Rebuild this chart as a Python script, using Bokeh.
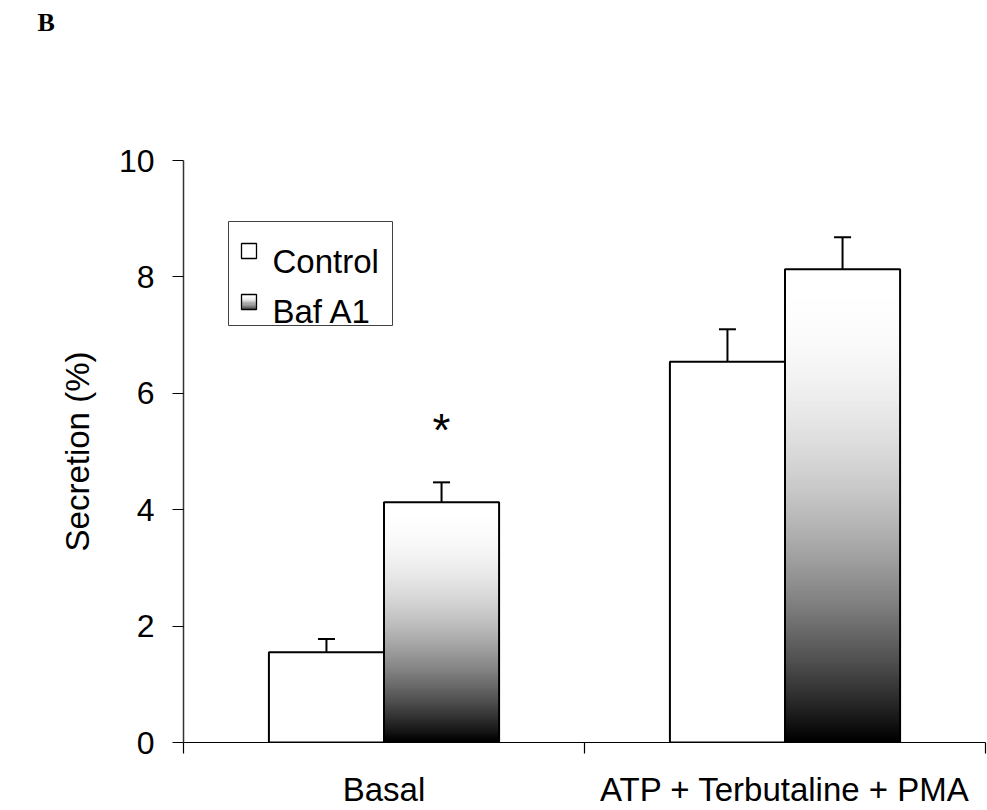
import numpy as np
from bokeh.plotting import figure
from bokeh.models import (Range1d, FixedTicker, Whisker, TeeHead, Label,
                          ColumnDataSource, LinearColorMapper, Title)
from bokeh.palettes import Greys256
from bokeh.embed import file_html
from bokeh.resources import INLINE
from bokeh.core.properties import value

# ---------------- data ----------------
groups = ["Basal", "ATP + Terbutaline + PMA"]
series = ["Control", "Baf A1"]
control = [1.55, 6.54]
control_err = [0.23, 0.56]
baf = [4.13, 8.13]
baf_err = [0.34, 0.55]
marks = ["*", ""]
y_ticks = [0, 2, 4, 6, 8, 10]
panel_letter = "B"

# ---------------- style / layout ----------------
FONT = "Liberation Sans"
W, H = 987, 810
X0, X1, Y0, Y1 = 183, 985, 742, 160      # frame in pixels
XMAX, YMAX = len(groups), 10
BAR_W = 0.287
OFF = BAR_W / 2


def dx(px):
    return (px - X0) / (X1 - X0) * XMAX


def dy(py):
    return (Y0 - py) / (Y0 - Y1) * YMAX


def shade(t):
    # vertical gradient: black at bottom, white at top
    return 1 - (1 - t) ** 2


p = figure(width=W, height=H, x_range=Range1d(0, XMAX), y_range=Range1d(0, YMAX),
           output_backend="svg", toolbar_location=None,
           min_border_left=X0, min_border_right=W - X1,
           min_border_top=Y1, min_border_bottom=H - Y0)
p.outline_line_color = None
p.grid.visible = False
p.background_fill_color = "white"
p.border_fill_color = "white"

# panel letter, pushed to the top of the page by blank trailing lines
p.add_layout(Title(text=panel_letter + "\n\n\n", text_font="Liberation Serif",
                   text_font_style="bold", text_font_size="26px",
                   text_line_height=1.42, text_color="black", align="left",
                   offset=37 - X0, standoff=0), "above")

gx = [i + 0.5 for i in range(len(groups))]
cx = [g - OFF for g in gx]
bx = [g + OFF for g in gx]

# Control bars
p.vbar(x=cx, top=control, bottom=0, width=BAR_W, fill_color="white",
       line_color="black", line_width=2)

# Baf A1 bars: gradient image + outline
N = 256
grad = shade(np.linspace(0, 1, N)).reshape(N, 1)
mapper = LinearColorMapper(palette=Greys256, low=0, high=1)
img_src = ColumnDataSource(dict(image=[grad for _ in baf],
                                x=[b - OFF for b in bx], y=[0] * len(baf),
                                dw=[BAR_W] * len(baf), dh=baf))
p.image(image="image", x="x", y="y", dw="dw", dh="dh", source=img_src,
        color_mapper=mapper)
p.vbar(x=bx, top=baf, bottom=0, width=BAR_W, fill_color=None,
       line_color="black", line_width=2)

# error bars (upper only)
err_src = ColumnDataSource(dict(
    base=cx + bx,
    lower=control + baf,
    upper=[v + e for v, e in zip(control, control_err)] +
          [v + e for v, e in zip(baf, baf_err)]))
p.add_layout(Whisker(base="base", lower="lower", upper="upper", source=err_src,
                     line_color="black", line_width=2, lower_head=None,
                     upper_head=TeeHead(size=17, line_color="black", line_width=2)))

# significance marks
sig_src = ColumnDataSource(dict(x=bx, y=[v + e + 0.9 for v, e in zip(baf, baf_err)],
                                t=marks))
p.text(x="x", y="y", text="t", source=sig_src, text_align="center",
       text_baseline="middle", text_font=value(FONT), text_font_size="46px",
       text_color="black")

# legend (drawn manually)
p.quad(left=[dx(228)], right=[dx(392)], top=[dy(221)], bottom=[dy(325)],
       fill_color="white", line_color="#404040", line_width=1)
# control swatch
p.quad(left=[dx(241)], right=[dx(256)], top=[dy(243)], bottom=[dy(258)],
       fill_color="white", line_color="black", line_width=1.3)
# gradient swatch
ns = 16
sw_top, sw_bot = 294, 309
strip_h = (sw_bot - sw_top) / ns
lefts, rights, tops, bots, cols = [], [], [], [], []
for k in range(ns):
    t = (k + 0.5) / ns
    g = int(round(shade(t) * 255))
    lefts.append(dx(241)); rights.append(dx(256))
    bots.append(dy(sw_bot - k * strip_h)); tops.append(dy(sw_bot - (k + 1) * strip_h))
    cols.append("#%02x%02x%02x" % (g, g, g))
p.quad(left=lefts, right=rights, top=tops, bottom=bots, fill_color=cols,
       line_color=None)
p.quad(left=[dx(241)], right=[dx(256)], top=[dy(sw_top)], bottom=[dy(sw_bot)],
       fill_color=None, line_color="black", line_width=1.3)

for name, base in zip(series, [261, 311]):
    p.add_layout(Label(x=dx(272), y=dy(base), text=name, text_font=FONT,
                       text_font_size="33px", text_baseline="alphabetic",
                       text_color="black"))

# axes
xa = p.xaxis[0]
xa.ticker = FixedTicker(ticks=gx, minor_ticks=list(range(len(groups) + 1)))
xa.major_label_overrides = {g: name for g, name in zip(gx, groups)}
xa.major_tick_out = 0
xa.major_tick_in = 0
xa.minor_tick_out = 11
xa.minor_tick_in = 0
xa.minor_tick_line_color = "black"
xa.minor_tick_line_width = 1.2
xa.axis_line_color = "black"
xa.axis_line_width = 1.2
xa.major_label_standoff = 17
xa.major_label_text_line_height = 1.0
xa.major_label_text_font = FONT
xa.major_label_text_font_size = "33px"
xa.major_label_text_color = "black"

ya = p.yaxis[0]
ya.ticker = FixedTicker(ticks=y_ticks)
ya.minor_tick_line_color = None
ya.major_tick_out = 11
ya.major_tick_in = 0
ya.major_tick_line_color = "black"
ya.major_tick_line_width = 1.2
ya.axis_line_color = "#333333"
ya.axis_line_width = 1.5
ya.major_label_standoff = 18
ya.major_label_text_font = FONT
ya.major_label_text_font_size = "32px"
ya.major_label_text_color = "black"
ya.axis_label = "Secretion (%)"
ya.axis_label_text_font = FONT
ya.axis_label_text_font_style = "normal"
ya.axis_label_text_font_size = "33px"
ya.axis_label_text_color = "black"
ya.axis_label_standoff = 20

open("out.html", "w").write(file_html(p, INLINE))
